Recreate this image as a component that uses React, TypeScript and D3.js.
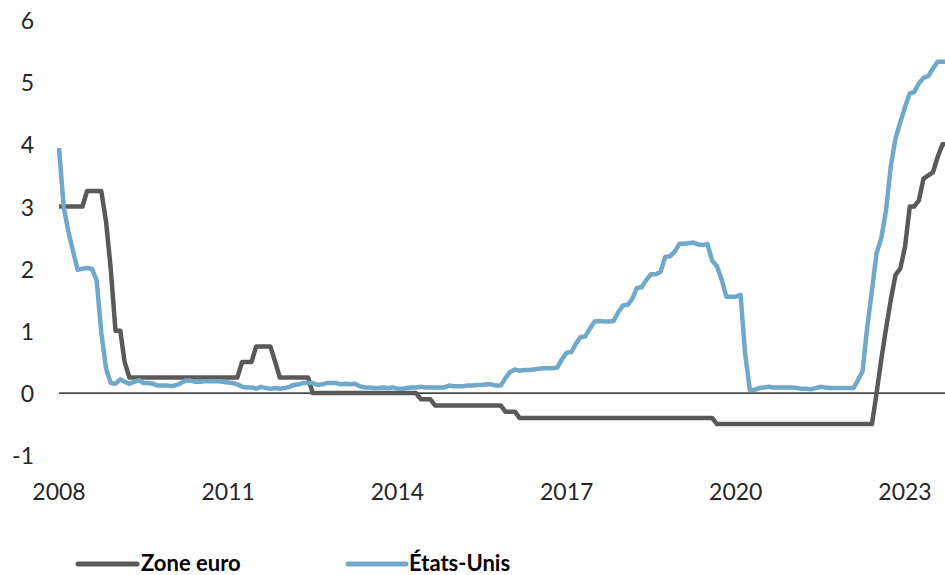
import React from "react";
import * as d3 from "d3";

const startYear = 2008;
const startMonth = 0;

const zoneEuro: number[] = [
  // 2008
  3.0, 3.0, 3.0, 3.0, 3.0, 3.0, 3.25, 3.25, 3.25, 3.25, 2.75, 2.0,
  // 2009
  1.0, 1.0, 0.5, 0.25, 0.25, 0.25, 0.25, 0.25, 0.25, 0.25, 0.25, 0.25,
  // 2010
  0.25, 0.25, 0.25, 0.25, 0.25, 0.25, 0.25, 0.25, 0.25, 0.25, 0.25, 0.25,
  // 2011
  0.25, 0.25, 0.25, 0.5, 0.5, 0.5, 0.75, 0.75, 0.75, 0.75, 0.5, 0.25,
  // 2012
  0.25, 0.25, 0.25, 0.25, 0.25, 0.25, 0.0, 0.0, 0.0, 0.0, 0.0, 0.0,
  // 2013
  0.0, 0.0, 0.0, 0.0, 0.0, 0.0, 0.0, 0.0, 0.0, 0.0, 0.0, 0.0,
  // 2014
  0.0, 0.0, 0.0, 0.0, 0.0, -0.1, -0.1, -0.1, -0.2, -0.2, -0.2, -0.2,
  // 2015
  -0.2, -0.2, -0.2, -0.2, -0.2, -0.2, -0.2, -0.2, -0.2, -0.2, -0.2, -0.3,
  // 2016
  -0.3, -0.3, -0.4, -0.4, -0.4, -0.4, -0.4, -0.4, -0.4, -0.4, -0.4, -0.4,
  // 2017
  -0.4, -0.4, -0.4, -0.4, -0.4, -0.4, -0.4, -0.4, -0.4, -0.4, -0.4, -0.4,
  // 2018
  -0.4, -0.4, -0.4, -0.4, -0.4, -0.4, -0.4, -0.4, -0.4, -0.4, -0.4, -0.4,
  // 2019
  -0.4, -0.4, -0.4, -0.4, -0.4, -0.4, -0.4, -0.4, -0.5, -0.5, -0.5, -0.5,
  // 2020
  -0.5, -0.5, -0.5, -0.5, -0.5, -0.5, -0.5, -0.5, -0.5, -0.5, -0.5, -0.5,
  // 2021
  -0.5, -0.5, -0.5, -0.5, -0.5, -0.5, -0.5, -0.5, -0.5, -0.5, -0.5, -0.5,
  // 2022
  -0.5, -0.5, -0.5, -0.5, -0.5, -0.5, 0.0, 0.55, 1.05, 1.5, 1.9, 2.0,
  // 2023
  2.35, 3.0, 3.0, 3.1, 3.45, 3.5, 3.55, 3.8, 4.0, 4.0,
];

const etatsUnis: number[] = [
  // 2008
  3.94, 2.98, 2.61, 2.28, 1.98, 2.0, 2.01, 2.0, 1.81, 0.97, 0.39, 0.16,
  // 2009
  0.15, 0.22, 0.18, 0.15, 0.18, 0.21, 0.16, 0.16, 0.15, 0.12, 0.12, 0.12,
  // 2010
  0.11, 0.13, 0.16, 0.2, 0.2, 0.18, 0.18, 0.19, 0.19, 0.19, 0.19, 0.18,
  // 2011
  0.17, 0.16, 0.14, 0.1, 0.09, 0.09, 0.07, 0.1, 0.08, 0.07, 0.08, 0.07,
  // 2012
  0.08, 0.1, 0.13, 0.14, 0.16, 0.16, 0.16, 0.13, 0.14, 0.16, 0.16, 0.16,
  // 2013
  0.14, 0.15, 0.14, 0.15, 0.11, 0.09, 0.09, 0.08, 0.08, 0.09, 0.08, 0.09,
  // 2014
  0.07, 0.07, 0.08, 0.09, 0.09, 0.1, 0.09, 0.09, 0.09, 0.09, 0.09, 0.12,
  // 2015
  0.11, 0.11, 0.11, 0.12, 0.12, 0.13, 0.13, 0.14, 0.14, 0.12, 0.12, 0.24,
  // 2016
  0.34, 0.38, 0.36, 0.37, 0.37, 0.38, 0.39, 0.4, 0.4, 0.4, 0.41, 0.54,
  // 2017
  0.65, 0.66, 0.79, 0.9, 0.91, 1.04, 1.15, 1.16, 1.15, 1.15, 1.16, 1.3,
  // 2018
  1.41, 1.42, 1.51, 1.69, 1.7, 1.82, 1.91, 1.91, 1.95, 2.19, 2.2, 2.27,
  // 2019
  2.4, 2.4, 2.41, 2.42, 2.39, 2.38, 2.4, 2.13, 2.04, 1.83, 1.55, 1.55,
  // 2020
  1.55, 1.58, 0.65, 0.05, 0.05, 0.08, 0.09, 0.1, 0.09, 0.09, 0.09, 0.09,
  // 2021
  0.09, 0.08, 0.07, 0.07, 0.06, 0.08, 0.1, 0.09, 0.08, 0.08, 0.08, 0.08,
  // 2022
  0.08, 0.08, 0.2, 0.35, 1.05, 1.65, 2.25, 2.5, 2.95, 3.65, 4.1, 4.35,
  // 2023
  4.6, 4.82, 4.84, 4.98, 5.07, 5.1, 5.22, 5.33, 5.33, 5.33,
];

const yTicks: number[] = [-1, 0, 1, 2, 3, 4, 5, 6];
const xTickYears: number[] = [2008, 2011, 2014, 2017, 2020, 2023];

const seriesNames = ["Zone euro", "États-Unis"];
const seriesColors = ["#595959", "#70a8ca"];

const W = 945;
const H = 575;
const FONT = "Lato, 'Open Sans', sans-serif";

export default function App() {
  const dates = zoneEuro.map((_, i) => new Date(startYear, startMonth + i, 1));

  const x = d3
    .scaleTime()
    .domain([new Date(2008, 0, 1), new Date(2023, 0, 1)])
    .range([59, 905]);
  const y = d3.scaleLinear().domain([-1, 6]).range([455.2, 20]);

  const line = d3
    .line<number>()
    .x((_, i) => x(dates[i]))
    .y((d) => y(d));

  const allSeries = [zoneEuro, etatsUnis];

  return (
    <svg
      width={W}
      height={H}
      style={{ position: "absolute", left: 0, top: 0, background: "#fff" }}
    >
      <rect x={0} y={0} width={W} height={H} fill="#fff" />
      {yTicks.map((t) => (
        <text
          key={t}
          x={34}
          y={y(t)}
          textAnchor="end"
          dominantBaseline="central"
          fontFamily={FONT}
          fontSize={23}
          fill="#262626"
        >
          {t}
        </text>
      ))}
      {xTickYears.map((yr) => (
        <text
          key={yr}
          x={x(new Date(yr, 0, 1))}
          y={491}
          textAnchor="middle"
          dominantBaseline="central"
          fontFamily={FONT}
          fontSize={23}
          fill="#262626"
        >
          {yr}
        </text>
      ))}
      <line
        x1={x(new Date(2008, 0, 1))}
        x2={W}
        y1={y(0)}
        y2={y(0)}
        stroke="#000"
        strokeWidth={1.3}
      />
      {allSeries.map((s, k) => (
        <path
          key={k}
          d={line(s) || ""}
          fill="none"
          stroke={seriesColors[k]}
          strokeWidth={4.5}
          strokeLinejoin="round"
        />
      ))}
      {[
        { x1: 78, x2: 137, tx: 141 },
        { x1: 348, x2: 406, tx: 409 },
      ].map((p, k) => (
        <g key={k}>
          <line
            x1={p.x1}
            x2={p.x2}
            y1={564}
            y2={564}
            stroke={seriesColors[k]}
            strokeWidth={5}
            strokeLinecap="round"
          />
          <text
            x={p.tx}
            y={571}
            fontFamily={FONT}
            fontWeight="bold"
            fontSize={22}
            fill="#000"
          >
            {seriesNames[k]}
          </text>
        </g>
      ))}
    </svg>
  );
}
